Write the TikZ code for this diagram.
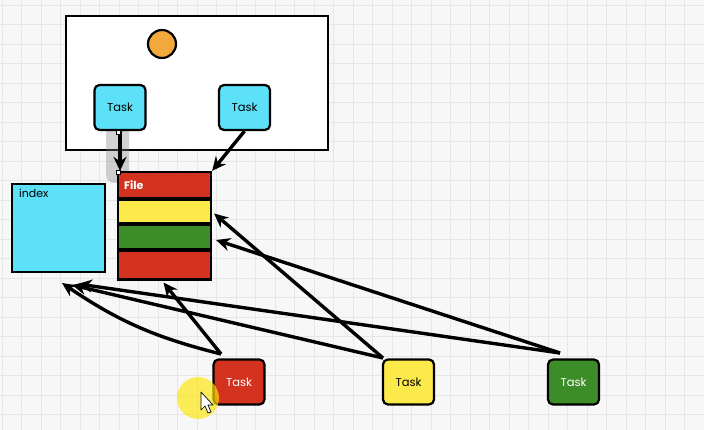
\documentclass[tikz,border=0pt]{standalone}
\usepackage{fontspec}
\setmainfont{Poppins}
\usetikzlibrary{arrows.meta,calc}
\definecolor{gridbg}{HTML}{F7F7F7}
\definecolor{gridln}{HTML}{E6E6E6}
\definecolor{tcyan}{HTML}{5CE1F8}
\definecolor{tred}{HTML}{D3331E}
\definecolor{tyellow}{HTML}{FCE94A}
\definecolor{tgreen}{HTML}{3C8C27}
\definecolor{torange}{HTML}{F2A83A}
\tikzset{
  box/.style={draw=black, line width=2.2pt, inner sep=0pt},
  taskbox/.style={box, rounded corners=5pt, minimum width=51pt, minimum height=45pt, font=\fontsize{11.5}{13}\selectfont},
  band/.style={box, minimum width=93pt},
  conn/.style={line width=3.4pt, -{Stealth[length=14pt,width=13pt]}},
}
\begin{document}
\begin{tikzpicture}[x=1pt,y=-1pt]
\useasboundingbox (0,0) rectangle (704,430);
\fill[gridbg] (0,0) rectangle (704,430);
\foreach \i in {0,...,36} {\draw[gridln, line width=0.8pt] (2+\i*19.5,0) -- (2+\i*19.5,430);}
\foreach \j in {0,...,22} {\draw[gridln, line width=0.8pt] (0,5+\j*19.5) -- (704,5+\j*19.5);}
% top container
\node[box, fill=white, minimum width=262pt, minimum height=134pt] (cont) at (197,83) {};
\node[box, circle, fill=torange, minimum size=28pt] (sun) at (162,44) {};
% selection band
\fill[gray, opacity=0.35, rounded corners=8pt] (106,120) rectangle (129,183);
\node[taskbox, fill=tcyan] (t1) at (120,107.5) {Task};
\node[taskbox, fill=tcyan] (t2) at (244.5,107.5) {Task};
% index
\node[box, fill=tcyan, minimum width=93pt, minimum height=88pt] (index) at (58.5,228) {};
\node[anchor=north west, inner sep=0pt, font=\fontsize{11}{13}\selectfont] (indexlbl) at (19,189) {index};
% file
\node[band, fill=tred, minimum height=26pt] (fh) at (164.5,185) {};
\node[anchor=west, inner sep=0pt, text=white, font=\bfseries\fontsize{11}{13}\selectfont] (filelbl) at (124,185) {File};
\node[band, fill=tyellow, minimum height=23pt] (fy) at (164.5,211.5) {};
\node[band, fill=tgreen, minimum height=24pt] (fg) at (164.5,237) {};
\node[band, fill=tred, minimum height=29pt] (fr) at (164.5,265) {};
% bottom tasks
\node[taskbox, fill=tred, text=white] (rt) at (239,382) {Task};
\node[taskbox, fill=tyellow] (yt) at (408.5,382) {Task};
\node[taskbox, fill=tgreen, text=white] (gt) at (573.5,382) {Task};
% connector end points
\coordinate (ia1) at (62,283);
\coordinate (ia2) at (72,285);
\coordinate (ia3) at (78,284);
\coordinate (rs) at (221,354);
\coordinate (ys) at (383,358);
\coordinate (gs) at (560,353);
% connectors
\draw[conn] (t1.south) -- (fh.north -| t1.south);
\draw[line width=0.6pt, fill=white] (116,130) rectangle (120,134);
\draw[line width=0.6pt, fill=white] (116,170) rectangle (120,174);
\draw[conn] (t2.south) -- (fh.north east);
\draw[conn] (rs) to[bend left=10] (ia1);
\draw[conn] (rs) -- ($(fr.south)+(-1,2)$);
\draw[conn] (ys) -- (ia2);
\draw[conn] (ys) -- ($(fy.east)+(2,2)$);
\draw[conn] (gs) -- (ia3);
\draw[conn] (gs) -- ($(fg.east)+(4,3)$);
% cursor highlight
\fill[yellow!90!orange, opacity=0.65] (198,398) circle (21pt);
\draw[fill=white, line width=0.7pt, line join=round] (201,392) -- (201,410) -- (205,406) -- (208,413) -- (211,412) -- (208,405) -- (213,405) -- cycle;
\end{tikzpicture}
\end{document}
